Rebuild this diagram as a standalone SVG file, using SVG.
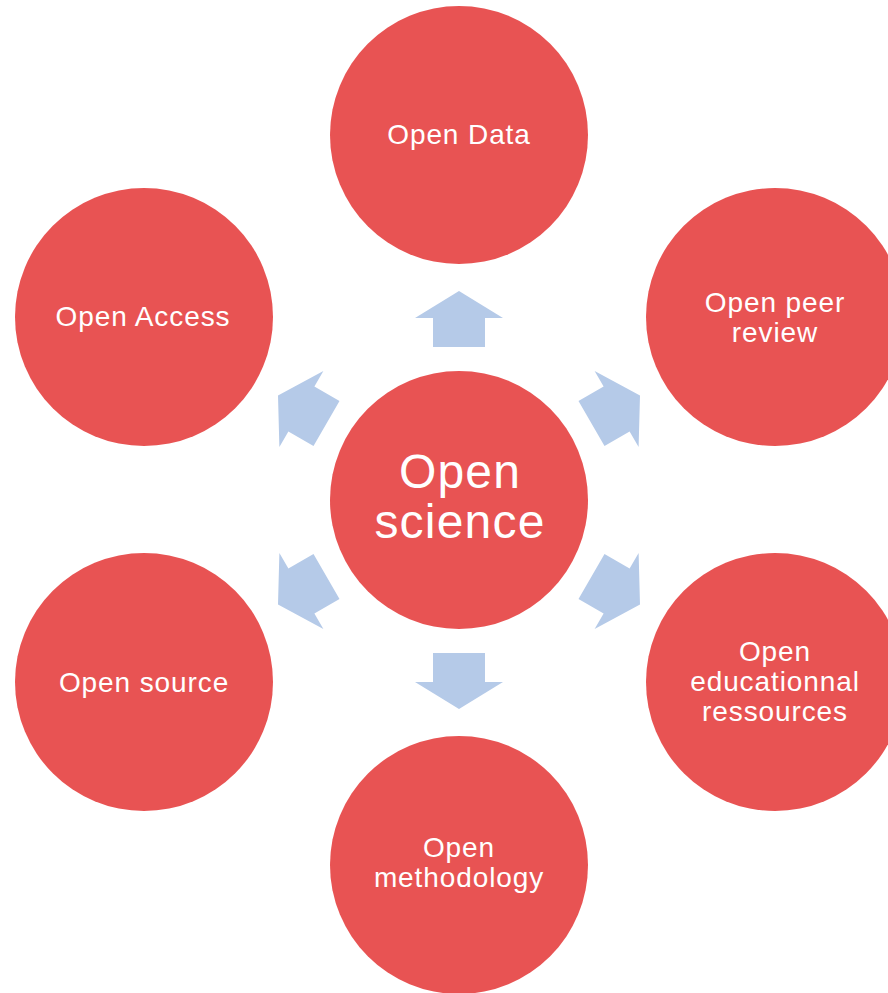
<svg xmlns="http://www.w3.org/2000/svg" width="888" height="993" viewBox="0 0 888 993">
<style>
.node{fill:#E85353;}
.lbl{fill:#ffffff;font-family:"Liberation Sans",Arial,sans-serif;font-size:28px;letter-spacing:0.9px;text-anchor:middle;}
.big{font-size:48px;letter-spacing:1.2px;}
.arr{fill:#B5CAE8;}
</style>
<defs>
<polygon id="arrow" points="0,-209 44,-182 26,-182 26,-153 -26,-153 -26,-182 -44,-182"/>
</defs>
<rect width="888" height="993" fill="#ffffff"/>
<g id="connectors" class="arr">
<use href="#arrow" transform="translate(459,500) rotate(0)"/>
<use href="#arrow" transform="translate(459,500) rotate(60)"/>
<use href="#arrow" transform="translate(459,500) rotate(120)"/>
<use href="#arrow" transform="translate(459,500) rotate(180)"/>
<use href="#arrow" transform="translate(459,500) rotate(240)"/>
<use href="#arrow" transform="translate(459,500) rotate(300)"/>
</g>
<g id="center">
<circle class="node" cx="459" cy="500" r="129"/>
<text class="lbl big" x="460" y="488">Open</text>
<text class="lbl big" x="460" y="538">science</text>
</g>
<g id="open-data">
<circle class="node" cx="459" cy="135" r="129"/>
<text class="lbl" x="459" y="144">Open Data</text>
</g>
<g id="open-peer-review">
<circle class="node" cx="775" cy="317" r="129"/>
<text class="lbl" x="775" y="312">Open peer</text>
<text class="lbl" x="775" y="342">review</text>
</g>
<g id="open-educational">
<circle class="node" cx="775" cy="682" r="129"/>
<text class="lbl" x="775" y="661">Open</text>
<text class="lbl" x="775" y="691">educationnal</text>
<text class="lbl" x="775" y="721">ressources</text>
</g>
<g id="open-methodology">
<circle class="node" cx="459" cy="865" r="129"/>
<text class="lbl" x="459" y="857">Open</text>
<text class="lbl" x="459" y="887">methodology</text>
</g>
<g id="open-source">
<circle class="node" cx="144" cy="682" r="129"/>
<text class="lbl" x="144" y="692">Open source</text>
</g>
<g id="open-access">
<circle class="node" cx="144" cy="317" r="129"/>
<text class="lbl" x="143" y="326">Open Access</text>
</g>
</svg>
